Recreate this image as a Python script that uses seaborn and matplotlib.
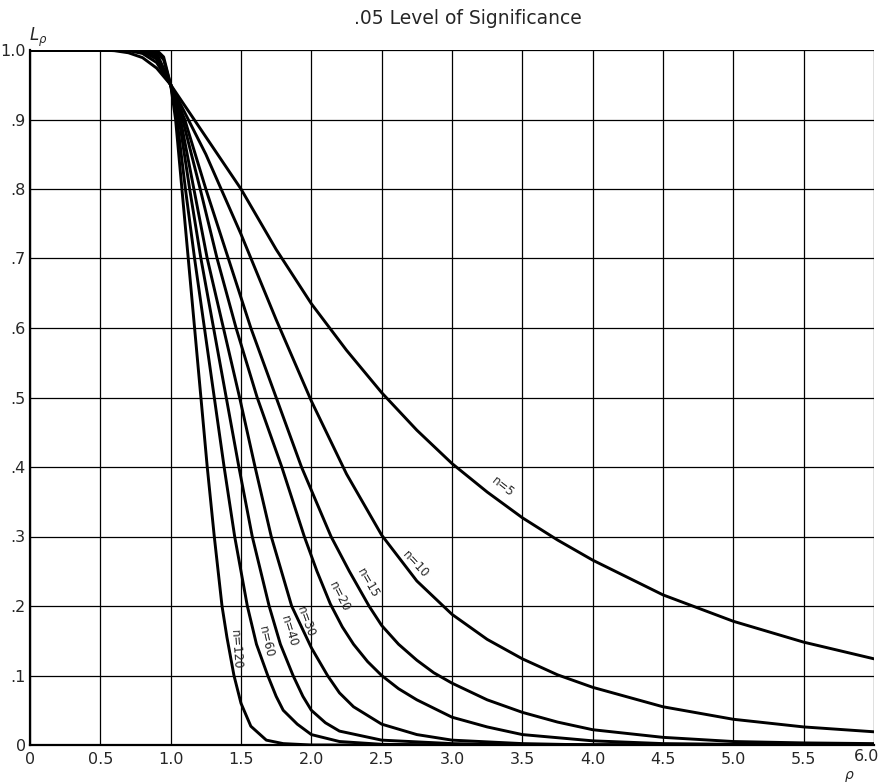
import matplotlib
matplotlib.use("Agg")
import matplotlib.pyplot as plt
from matplotlib.ticker import MultipleLocator, FixedLocator
import seaborn as sns
import pandas as pd

# ---- data (rho, L_rho) ----
rho_n5 = [0.0, 0.5, 0.6, 0.7, 0.8, 0.9, 1.0, 1.25, 1.5, 1.75, 2.0, 2.25, 2.5, 2.75, 3.0, 3.25, 3.5, 3.75, 4.0, 4.5, 5.0, 5.5, 6.0]
L_n5 = [1.0, 1.0, 0.999, 0.996, 0.989, 0.974, 0.95, 0.875, 0.80, 0.713, 0.635, 0.568, 0.507, 0.453, 0.405, 0.364, 0.327, 0.295, 0.266, 0.216, 0.178, 0.148, 0.124]

rho_n10 = [0.0, 0.6, 0.7, 0.8, 0.9, 1.0, 1.25, 1.5, 1.75, 2.0, 2.25, 2.5, 2.75, 3.0, 3.25, 3.5, 3.75, 4.0, 4.5, 5.0, 5.5, 6.0]
L_n10 = [1.0, 1.0, 0.999, 0.995, 0.982, 0.95, 0.85, 0.735, 0.612, 0.495, 0.39, 0.302, 0.236, 0.188, 0.152, 0.124, 0.101, 0.083, 0.055, 0.037, 0.026, 0.019]

rho_n15 = [0.0, 0.7, 0.8, 0.9, 1.0, 1.10, 1.25, 1.41, 1.57, 1.75, 1.93, 2.14, 2.27, 2.41, 2.5, 2.62, 2.75, 2.87, 3.0, 3.25, 3.5, 3.75, 4.0, 4.5, 5.0, 5.5, 6.0]
L_n15 = [1.0, 1.0, 0.998, 0.987, 0.95, 0.9, 0.8, 0.7, 0.6, 0.5, 0.4, 0.3, 0.25, 0.2, 0.172, 0.145, 0.122, 0.104, 0.089, 0.065, 0.047, 0.033, 0.022, 0.011, 0.005, 0.003, 0.002]

rho_n20 = [0.0, 0.7, 0.8, 0.9, 1.0, 1.085, 1.21, 1.33, 1.465, 1.615, 1.79, 1.95, 2.04, 2.135, 2.22, 2.3, 2.4, 2.5, 2.62, 2.75, 3.0, 3.25, 3.5, 4.0, 4.5, 5.0, 6.0]
L_n20 = [1.0, 1.0, 0.999, 0.99, 0.95, 0.9, 0.8, 0.7, 0.6, 0.5, 0.4, 0.3, 0.25, 0.203, 0.17, 0.145, 0.12, 0.1, 0.081, 0.065, 0.04, 0.026, 0.015, 0.006, 0.002, 0.001, 0.0]

rho_n30 = [0.0, 0.8, 0.9, 1.0, 1.07, 1.165, 1.26, 1.375, 1.49, 1.6, 1.715, 1.86, 2.0, 2.115, 2.2, 2.3, 2.5, 2.75, 3.0, 3.5, 4.0, 6.0]
L_n30 = [1.0, 1.0, 0.994, 0.95, 0.9, 0.8, 0.7, 0.6, 0.5, 0.4, 0.3, 0.2, 0.14, 0.1, 0.075, 0.055, 0.03, 0.015, 0.007, 0.002, 0.0, 0.0]

rho_n40 = [0.0, 0.8, 0.9, 1.0, 1.06, 1.135, 1.215, 1.305, 1.395, 1.485, 1.58, 1.70, 1.78, 1.87, 1.94, 2.0, 2.1, 2.2, 2.5, 3.0, 3.5, 6.0]
L_n40 = [1.0, 1.0, 0.996, 0.95, 0.9, 0.8, 0.7, 0.6, 0.5, 0.4, 0.3, 0.2, 0.145, 0.1, 0.07, 0.05, 0.032, 0.02, 0.007, 0.002, 0.0, 0.0]

rho_n60 = [0.0, 0.85, 0.9, 0.95, 1.0, 1.045, 1.105, 1.17, 1.24, 1.31, 1.38, 1.455, 1.545, 1.61, 1.69, 1.75, 1.8, 1.9, 2.0, 2.2, 2.5, 3.0, 6.0]
L_n60 = [1.0, 1.0, 0.998, 0.986, 0.95, 0.9, 0.8, 0.7, 0.6, 0.5, 0.4, 0.3, 0.2, 0.145, 0.1, 0.07, 0.05, 0.03, 0.015, 0.005, 0.001, 0.0, 0.0]

rho_n120 = [0.0, 0.9, 0.95, 1.0, 1.035, 1.08, 1.125, 1.17, 1.215, 1.26, 1.31, 1.365, 1.40, 1.45, 1.5, 1.57, 1.68, 1.8, 2.0, 6.0]
L_n120 = [1.0, 1.0, 0.99, 0.95, 0.9, 0.8, 0.7, 0.6, 0.5, 0.4, 0.3, 0.2, 0.155, 0.1, 0.06, 0.027, 0.007, 0.002, 0.0, 0.0]

sample_sizes = ["5", "10", "15", "20", "30", "40", "60", "120"]
curve_labels = ["n=5", "n=10", "n=15", "n=20", "n=30", "n=40", "n=60", "n=120"]
x_ticklabels = ["0", "0.5", "1.0", "1.5", "2.0", "2.5", "3.0", "3.5", "4.0", "4.5", "5.0", "5.5", ""]
last_x_ticklabel = "6.0"
y_ticklabels = ["0", ".1", ".2", ".3", ".4", ".5", ".6", ".7", ".8", ".9", "1.0"]
title_text = ".05 Level of Significance"

# label anchor positions (data coords) and rotations
label_x = [3.36, 2.74, 2.40, 2.20, 1.96, 1.84, 1.68, 1.46]
label_y = [0.372, 0.26, 0.233, 0.213, 0.177, 0.163, 0.149, 0.137]
label_rot = [-38, -47, -60, -63, -70, -73, -77, -86]

series = {
    "5": (rho_n5, L_n5), "10": (rho_n10, L_n10), "15": (rho_n15, L_n15),
    "20": (rho_n20, L_n20), "30": (rho_n30, L_n30), "40": (rho_n40, L_n40),
    "60": (rho_n60, L_n60), "120": (rho_n120, L_n120),
}
rows = []
for n in sample_sizes:
    xs, ys = series[n]
    for a, b in zip(xs, ys):
        rows.append({"n": n, "rho": a, "L": b})
df = pd.DataFrame(rows)

sns.set_style("white")
plt.rcParams["font.family"] = ["DejaVu Sans"]

fig = plt.figure(figsize=(8.82, 7.82), dpi=100)
ax = fig.add_axes([30 / 882, 37 / 782, 844 / 882, 695 / 782])

sns.lineplot(data=df, x="rho", y="L", hue="n", hue_order=sample_sizes,
             palette=["black"] * len(sample_sizes), estimator=None, sort=False,
             linewidth=2.1, legend=False, ax=ax)
for line in ax.get_lines():
    line.set_solid_joinstyle("round")
    line.set_solid_capstyle("round")

ax.set_xlim(0, 6.0)
ax.set_ylim(0, 1.0)
ax.xaxis.set_major_locator(FixedLocator([i * 0.5 for i in range(13)]))
ax.yaxis.set_major_locator(FixedLocator([i * 0.1 for i in range(11)]))
ax.set_xticklabels(x_ticklabels, fontsize=11.5)
ax.set_yticklabels(y_ticklabels, fontsize=11.5)
ax.xaxis.set_minor_locator(MultipleLocator(0.1))
ax.yaxis.set_minor_locator(MultipleLocator(0.02))
ax.tick_params(axis="both", which="major", length=0, pad=5)
ax.tick_params(axis="y", which="major", pad=3)
ax.tick_params(axis="x", which="minor", direction="in", length=7, width=1.0, color="black")
ax.tick_params(axis="y", which="minor", direction="in", length=8, width=1.0, color="black")
ax.grid(True, which="major", color="black", linewidth=0.9)
ax.set_axisbelow(True)
for s in ["top", "right"]:
    ax.spines[s].set_visible(False)
for s in ["left", "bottom"]:
    ax.spines[s].set_color("black")
    ax.spines[s].set_linewidth(1.6)
ax.set_xlabel("")
ax.set_ylabel("")

ax.annotate(last_x_ticklabel, xy=(6.0, 0.0), xytext=(-5, -8.5), textcoords="offset points",
            ha="center", va="center", fontsize=11.5, annotation_clip=False)

for txt, lx, ly, rot in zip(curve_labels, label_x, label_y, label_rot):
    ax.text(lx, ly, txt, rotation=rot, rotation_mode="anchor", fontsize=8.5,
            ha="center", va="center")

fig.text(0.53, 0.976, title_text, ha="center", va="center", fontsize=13.5)
fig.text(29 / 882, (782 - 37) / 782, r"$L_\rho$", ha="left", va="center", fontsize=12)
fig.text(849 / 882, 6 / 782, r"$\rho$", ha="center", va="center", fontsize=10)

fig.savefig("out.png", dpi=100)
